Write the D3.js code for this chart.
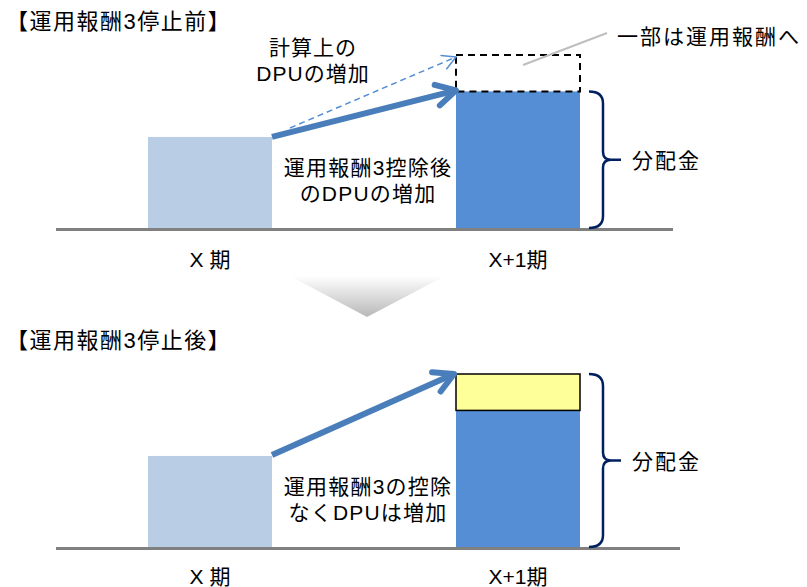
<!DOCTYPE html>
<html>
<head>
<meta charset="utf-8">
<script src="https://cdn.jsdelivr.net/npm/d3@7"></script>
<style>
  body { margin: 0; background: #fff; }
  text { font-family: "Liberation Sans", "Noto Sans CJK JP", sans-serif; fill: #000; }
</style>
</head>
<body>
<svg class="chart" width="807" height="587"></svg>
<script>
// periods and DPU values (arbitrary units, previous period = 100)
var periods = ['X 期', 'X+1期'];
var prevDPU = [100];
var afterFee = [150];     // X+1 DPU after deduction of fee 3
var calcDPU = [190];      // X+1 DPU on calculation basis
var feePart = [40];       // portion that no longer goes to fee 3

var titles = ['【運用報酬3停止前】', '【運用報酬3停止後】'];
var midLabels = [['運用報酬3控除後', 'のDPUの増加'], ['運用報酬3の控除', 'なくDPUは増加']];
var calcLabel = ['計算上の', 'DPUの増加'];
var feeLabel = '一部は運用報酬へ';
var braceLabel = '分配金';

var svg = d3.select('svg.chart');
var arrowBlue = '#4a7ebb';

var x = d3.scalePoint().domain(periods).range([210, 518]);
var barW = 124;
var y = d3.scaleLinear().domain([0, 190]).range([228, 55]);

var defs = svg.append('defs');
var grad = defs.append('linearGradient').attr('id', 'tri').attr('x1', 0).attr('y1', 0).attr('x2', 0).attr('y2', 1);
grad.append('stop').attr('offset', '0%').attr('stop-color', '#ffffff');
grad.append('stop').attr('offset', '100%').attr('stop-color', '#b8b8b8');

var drawArrow = function (g, x0, y0, x1, y1, opts) {
  var a = Math.atan2(y1 - y0, x1 - x0);
  var len = opts.head, spread = 0.5;
  var line = g.append('line')
    .attr('x1', x0).attr('y1', y0).attr('x2', x1 - Math.cos(a) * 2).attr('y2', y1 - Math.sin(a) * 2)
    .attr('stroke', opts.color).attr('stroke-width', opts.width);
  if (opts.dash) line.attr('stroke-dasharray', opts.dash);
  var p = d3.path();
  p.moveTo(x1 - len * Math.cos(a - spread), y1 - len * Math.sin(a - spread));
  p.lineTo(x1, y1);
  p.lineTo(x1 - len * Math.cos(a + spread), y1 - len * Math.sin(a + spread));
  g.append('path').attr('d', p.toString())
    .attr('fill', 'none').attr('stroke', opts.color).attr('stroke-width', opts.width)
    .attr('stroke-linecap', 'round').attr('stroke-linejoin', 'round');
};

var drawBrace = function (g, top, bottom, xb) {
  var mid = (top + bottom) / 2;
  var p = d3.path();
  p.moveTo(xb - 14, top);
  p.quadraticCurveTo(xb, top, xb, top + 12);
  p.lineTo(xb, mid - 8);
  p.quadraticCurveTo(xb, mid, xb + 8, mid);
  p.lineTo(xb + 18, mid);
  p.moveTo(xb + 8, mid);
  p.quadraticCurveTo(xb, mid, xb, mid + 8);
  p.lineTo(xb, bottom - 12);
  p.quadraticCurveTo(xb, bottom, xb - 14, bottom);
  g.append('path').attr('d', p.toString())
    .attr('fill', 'none').attr('stroke', '#002060').attr('stroke-width', 2.5);
  g.append('text').attr('x', xb + 29).attr('y', mid + 8)
    .style('font-size', '21px').style('letter-spacing', '2px').text(braceLabel);
};

var drawPanel = function (idx, offset) {
  var g = svg.append('g').attr('transform', 'translate(0,' + offset + ')');
  var x0 = x(periods[0]) - barW / 2, x1 = x(periods[1]) - barW / 2;

  g.append('text').attr('x', 6).attr('y', 29).style('font-size', '22px')
    .style('letter-spacing', '1.5px').text(titles[idx]);

  // bars
  g.append('rect').attr('x', x0).attr('y', y(prevDPU[0])).attr('width', barW)
    .attr('height', y(0) - y(prevDPU[0])).attr('fill', '#b9cde5');
  g.append('rect').attr('x', x1).attr('y', y(afterFee[0])).attr('width', barW)
    .attr('height', y(0) - y(afterFee[0])).attr('fill', '#558ed5');

  if (idx === 0) {
    g.append('rect').attr('x', x1).attr('y', y(calcDPU[0])).attr('width', barW)
      .attr('height', y(afterFee[0]) - y(calcDPU[0]))
      .attr('fill', 'none').attr('stroke', '#000').attr('stroke-width', 2).attr('stroke-dasharray', '7,5');
  } else {
    g.append('rect').attr('x', x1).attr('y', y(afterFee[0] + feePart[0])).attr('width', barW)
      .attr('height', y(afterFee[0]) - y(afterFee[0] + feePart[0]))
      .attr('fill', '#ffff99').attr('stroke', '#000').attr('stroke-width', 1.5);
  }

  // baseline
  g.append('line').attr('x1', 56).attr('x2', idx === 0 ? 673 : 680)
    .attr('y1', y(0) + 1.5).attr('y2', y(0) + 1.5)
    .attr('stroke', '#808080').attr('stroke-width', 3);

  // period labels
  g.selectAll('text.period').data(periods).enter().append('text')
    .attr('class', 'period').attr('x', function (d) { return x(d); }).attr('y', idx === 0 ? 267 : 265)
    .attr('text-anchor', 'middle').style('font-size', '21px').text(function (d) { return d; });

  // arrows
  if (idx === 0) {
    drawArrow(g, x0 + barW + 18, y(prevDPU[0]) - 9, x1, y(calcDPU[0]) + 2,
      { color: '#558ed5', width: 1.5, head: 15, dash: '6,4' });
    drawArrow(g, x0 + barW, y(prevDPU[0]), x1, y(afterFee[0]) - 1,
      { color: arrowBlue, width: 6, head: 22 });
    g.append('line').attr('x1', 523).attr('y1', 65).attr('x2', 607).attr('y2', 33)
      .attr('stroke', '#bfbfbf').attr('stroke-width', 2);
    g.append('text').attr('x', 617).attr('y', 44).style('font-size', '21px')
      .style('letter-spacing', '2px').text(feeLabel);
    g.selectAll('text.calc').data(calcLabel).enter().append('text')
      .attr('class', 'calc').attr('x', 313).attr('y', function (d, i) { return 55 + i * 26; })
      .attr('text-anchor', 'middle').style('font-size', '21px').style('letter-spacing', '1px')
      .text(function (d) { return d; });
    drawBrace(g, y(afterFee[0]), y(0), 603);
  } else {
    drawArrow(g, x0 + barW, y(prevDPU[0]) - 1, x1 - 2, y(afterFee[0] + feePart[0]),
      { color: arrowBlue, width: 6, head: 22 });
    drawBrace(g, y(afterFee[0] + feePart[0]), y(0), 603);
  }

  g.selectAll('text.mid').data(midLabels[idx]).enter().append('text')
    .attr('class', 'mid').attr('x', 368).attr('y', function (d, i) { return 175 + i * 26; })
    .attr('text-anchor', 'middle').style('font-size', '21px').style('letter-spacing', '1.2px')
    .text(function (d) { return d; });
};

drawPanel(0, 0);
drawPanel(1, 319);

// transition triangle between panels
svg.append('path').attr('d', 'M290,276 L445,276 L367,317 Z').attr('fill', 'url(#tri)');
</script>
</body>
</html>
